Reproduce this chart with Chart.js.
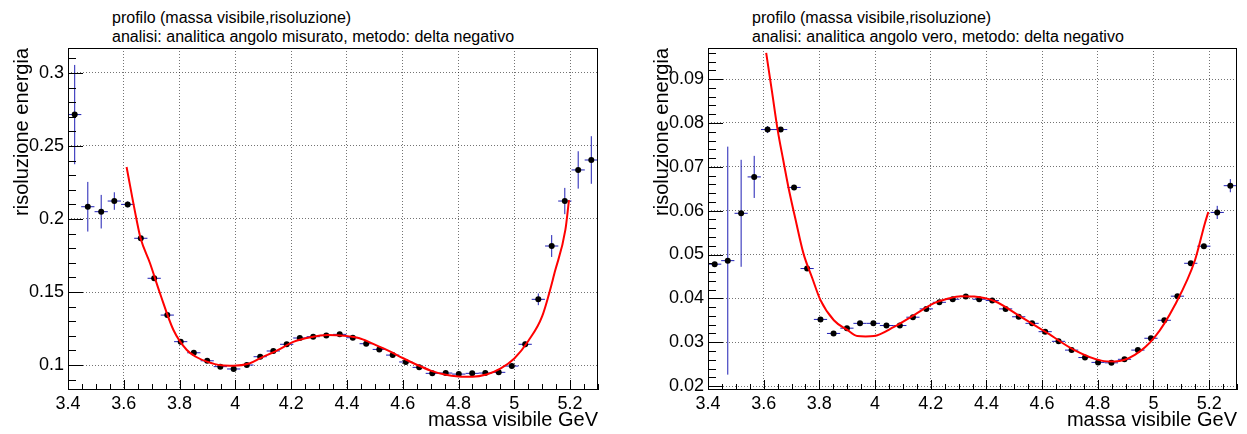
<!DOCTYPE html>
<html>
<head>
<meta charset="utf-8">
<script src="https://cdn.jsdelivr.net/npm/chart.js@4"></script>
<style>
  body { margin: 0; background: #fff; width: 1247px; height: 434px; overflow: hidden; position: relative; font-family: "Liberation Sans", Arial, sans-serif; }
  canvas { position: absolute; top: 0; }
  .titolo { position: absolute; top: 8px; font-size: 16px; line-height: 19px; color: #000; white-space: nowrap; }
</style>
</head>
<body>
<div class="titolo" style="left:112px">profilo (massa visibile,risoluzione)<br>analisi: analitica angolo misurato, metodo: delta negativo</div>
<div class="titolo" style="left:752px">profilo (massa visibile,risoluzione)<br>analisi: analitica angolo vero, metodo: delta negativo</div>
<canvas id="chartMisurato" width="623" height="434" style="left:0"></canvas>
<canvas id="chartVero" width="607" height="434" style="left:640px"></canvas>
<script>
// centri dei bin in massa visibile (GeV), 40 bin tra 3.4 e 5.3
const massa = [3.424, 3.471, 3.519, 3.566, 3.614, 3.661, 3.709, 3.756, 3.804, 3.851,
               3.899, 3.946, 3.994, 4.041, 4.089, 4.136, 4.184, 4.231, 4.279, 4.326,
               4.374, 4.421, 4.469, 4.516, 4.564, 4.611, 4.659, 4.706, 4.754, 4.801,
               4.849, 4.896, 4.944, 4.991, 5.039, 5.086, 5.134, 5.181, 5.229, 5.276];
const semiBin = 0.02375;

// angolo misurato
const risMisurato = [0.2715, 0.2084, 0.2050, 0.2123, 0.2100, 0.1868, 0.1594, 0.1342, 0.1160, 0.1084,
                     0.1029, 0.0989, 0.0973, 0.1000, 0.1057, 0.1096, 0.1142, 0.1185, 0.1194, 0.1203,
                     0.1210, 0.1187, 0.1146, 0.1107, 0.1068, 0.1021, 0.0984, 0.0943, 0.0945, 0.0938,
                     0.0943, 0.0945, 0.0950, 0.0993, 0.1142, 0.1450, 0.1815, 0.2123, 0.2336, 0.2404];
const errMisurato = [0.034, 0.017, 0.0115, 0.006, 0.002, 0.0015, 0.0015, 0.0015, 0.0015, 0.0015,
                     0.0015, 0.0015, 0.0015, 0.0015, 0.0015, 0.0015, 0.0015, 0.0015, 0.0015, 0.0015,
                     0.0015, 0.0015, 0.0015, 0.0015, 0.0015, 0.0015, 0.0015, 0.0015, 0.0015, 0.0015,
                     0.0015, 0.0015, 0.0015, 0.0015, 0.002, 0.004, 0.0075, 0.009, 0.0128, 0.0163];
const fitMisX = [3.61, 3.646, 3.66, 3.694, 3.73, 3.778, 3.826, 3.86, 3.898, 3.95, 3.994, 4.05,
                 4.09, 4.15, 4.21, 4.27, 4.33, 4.39, 4.45, 4.5, 4.55, 4.6, 4.65, 4.7, 4.75,
                 4.8, 4.85, 4.9, 4.95, 5.0, 5.05, 5.1, 5.147, 5.183, 5.196];
const fitMisY = [0.2356, 0.1993, 0.187, 0.1697, 0.149, 0.124, 0.1103, 0.1055, 0.1023, 0.0998, 0.0995, 0.1010,
                 0.1047, 0.1100, 0.1160, 0.1190, 0.1205, 0.1200, 0.1180, 0.1140, 0.1097, 0.1048, 0.1002, 0.0962, 0.0935,
                 0.0922, 0.0920, 0.0935, 0.0975, 0.1045, 0.1165, 0.1335, 0.165, 0.1925, 0.213];

// angolo vero
const risVero = [0.0478, 0.0486, 0.0594, 0.0677, 0.0785, 0.0785, 0.0653, 0.0468, 0.0352, 0.0320,
                 0.0332, 0.0343, 0.0343, 0.0338, 0.0338, 0.0357, 0.0376, 0.0391, 0.0398, 0.0404,
                 0.0398, 0.0395, 0.0376, 0.0358, 0.0343, 0.0324, 0.0302, 0.0282, 0.0265, 0.0254,
                 0.0253, 0.0261, 0.0282, 0.0309, 0.0350, 0.0405, 0.0480, 0.0519, 0.0596, 0.0657];
const errVero = [0.0005, 0.026, 0.0122, 0.0048, 0.0008, 0.0004, 0.0004, 0.0004, 0.0004, 0.0004,
                 0.0004, 0.0004, 0.0004, 0.0004, 0.0004, 0.0004, 0.0004, 0.0004, 0.0004, 0.0004,
                 0.0004, 0.0004, 0.0004, 0.0004, 0.0004, 0.0004, 0.0004, 0.0004, 0.0004, 0.0004,
                 0.0004, 0.0004, 0.0004, 0.0004, 0.0004, 0.0004, 0.0005, 0.0005, 0.0015, 0.0015];
const fitVeroX = [3.609, 3.63, 3.65, 3.67, 3.689, 3.714, 3.743, 3.774, 3.804, 3.852, 3.9, 3.936,
                  3.966, 3.996, 4.068, 4.14, 4.212, 4.26, 4.308, 4.356, 4.428, 4.524, 4.621, 4.716,
                  4.813, 4.861, 4.933, 5.005, 5.077, 5.149, 5.185, 5.197];
const fitVeroY = [0.096, 0.0871, 0.0785, 0.0716, 0.0653, 0.0581, 0.0502, 0.0447, 0.0396, 0.0350, 0.0328, 0.0314,
                  0.0313, 0.0314, 0.0335, 0.0362, 0.0389, 0.0399, 0.0405, 0.0404, 0.0394, 0.0358, 0.0320, 0.0282,
                  0.0258, 0.0256, 0.0271, 0.0312, 0.0385, 0.0487, 0.0572, 0.0597];

// etichette degli assi
const xTicks = [3.4, 3.6, 3.8, 4, 4.2, 4.4, 4.6, 4.8, 5, 5.2];
const yTicksMis = [0.1, 0.15, 0.2, 0.25, 0.3];
const yTicksVero = [0.02, 0.03, 0.04, 0.05, 0.06, 0.07, 0.08, 0.09];

Chart.defaults.font.family = '"Liberation Sans", Arial, sans-serif';
Chart.defaults.color = '#000';

// barre d'errore, cornice e tacche stile ROOT
const stileRoot = {
  id: 'stileRoot',
  beforeDatasetsDraw(chart) {
    const { ctx, chartArea: a, scales: { x, y } } = chart;
    const ds = chart.data.datasets[1];
    ctx.save();
    ctx.beginPath();
    ctx.rect(a.left, a.top, a.width, a.height);
    ctx.clip();
    ctx.strokeStyle = 'rgb(30,30,180)';
    ctx.lineWidth = 1;
    ds.data.forEach((p, i) => {
      const px = x.getPixelForValue(p.x);
      const py = y.getPixelForValue(p.y);
      ctx.beginPath();
      ctx.moveTo(x.getPixelForValue(p.x - semiBin), py);
      ctx.lineTo(x.getPixelForValue(p.x + semiBin), py);
      ctx.moveTo(px, y.getPixelForValue(p.y - ds.errori[i]));
      ctx.lineTo(px, y.getPixelForValue(p.y + ds.errori[i]));
      ctx.stroke();
    });
    ctx.restore();
  },
  afterDraw(chart, args, opts) {
    const { ctx, chartArea: a, scales: { x, y } } = chart;
    ctx.save();
    ctx.strokeStyle = '#000';
    ctx.lineWidth = 1;
    ctx.strokeRect(a.left + 0.5, a.top + 0.5, a.width - 1, a.height - 1);
    ctx.beginPath();
    // tacche asse x
    for (let i = Math.ceil(x.min / 0.05 - 1e-6); i * 0.05 <= x.max + 1e-9; i++) {
      const v = i * 0.05;
      const major = xTicks.some(t => Math.abs(t - v) < 1e-6);
      const px = Math.round(x.getPixelForValue(v)) + 0.5;
      ctx.moveTo(px, a.bottom);
      ctx.lineTo(px, a.bottom - (major ? 10 : 6));
    }
    // tacche asse y
    const step = opts.yMinor;
    for (let i = Math.ceil(y.min / step - 1e-6); i * step <= y.max + 1e-9; i++) {
      const v = i * step;
      const major = opts.yMajor.some(t => Math.abs(t - v) < 1e-6);
      const py = Math.round(y.getPixelForValue(v)) + 0.5;
      ctx.moveTo(a.left, py);
      ctx.lineTo(a.left + (major ? 15 : 8), py);
    }
    ctx.stroke();
    ctx.restore();
  }
};

function profilo(id, valori, errori, fitX, fitY, yMin, yMax, yTicks, yMinor, padDestra) {
  return new Chart(document.getElementById(id), {
    type: 'scatter',
    data: {
      datasets: [{
        label: 'fit',
        data: fitX.map((v, i) => ({ x: v, y: fitY[i] })),
        showLine: true,
        borderColor: 'rgb(255,0,0)',
        borderWidth: 2,
        pointRadius: 0,
        cubicInterpolationMode: 'monotone',
        order: 0
      }, {
        label: 'profilo',
        data: massa.map((v, i) => ({ x: v, y: valori[i] })),
        errori: errori,
        backgroundColor: '#000',
        pointRadius: 3,
        pointBorderWidth: 0,
        order: 1
      }]
    },
    options: {
      responsive: false,
      animation: false,
      layout: { padding: { top: 48, right: padDestra, left: 0, bottom: 0 } },
      plugins: {
        legend: { display: false },
        tooltip: { enabled: false },
        stileRoot: { yMinor: yMinor, yMajor: yTicks }
      },
      scales: {
        x: {
          type: 'linear',
          min: 3.4,
          max: 5.3,
          afterFit(s) { s.height = 44; },
          afterBuildTicks(s) { s.ticks = xTicks.map(v => ({ value: v })); },
          ticks: { padding: 3, font: { size: 18 }, maxRotation: 0, autoSkip: false,
                   callback: v => String(Math.round(v * 100) / 100) },
          grid: { color: 'rgba(0,0,0,0.55)', drawTicks: false },
          border: { display: false, dash: [1, 2] },
          title: { display: true, text: 'massa visibile GeV', align: 'end', font: { size: 20 }, padding: { top: 0, bottom: 2 } }
        },
        y: {
          type: 'linear',
          min: yMin,
          max: yMax,
          afterFit(s) { s.width = 68; },
          afterBuildTicks(s) { s.ticks = yTicks.map(v => ({ value: v })); },
          ticks: { padding: 4, font: { size: 18 }, autoSkip: false,
                   callback: v => String(Math.round(v * 1000) / 1000) },
          grid: { color: 'rgba(0,0,0,0.55)', drawTicks: false },
          border: { display: false, dash: [1, 2] },
          title: { display: true, text: 'risoluzione energia', align: 'end', font: { size: 20 }, padding: { top: 10, bottom: 0 } }
        }
      }
    },
    plugins: [stileRoot]
  });
}

let chartMisurato = profilo('chartMisurato', risMisurato, errMisurato, fitMisX, fitMisY,
                            0.0829, 0.3171, yTicksMis, 0.01, 25);
let chartVero = profilo('chartVero', risVero, errVero, fitVeroX, fitVeroY,
                        0.0191, 0.0971, yTicksVero, 0.002, 10);
</script>
</body>
</html>
